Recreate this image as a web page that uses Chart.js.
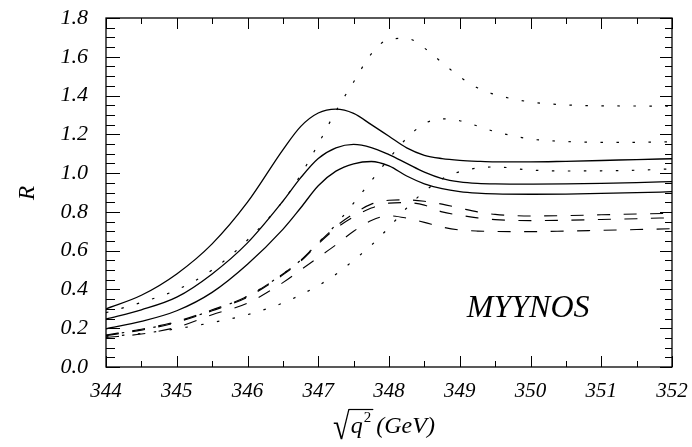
<!DOCTYPE html>
<html><head><meta charset="utf-8">
<script src="https://cdn.jsdelivr.net/npm/chart.js@4.4.0/dist/chart.umd.min.js"></script>
<style>html,body{margin:0;padding:0;background:#fff;}canvas{display:block;}</style>
</head><body>
<canvas id="c" width="692" height="447"></canvas>
<script>
// ---- data ----
const xValues = [344,344.5,345,345.5,346,346.5,346.75,347,347.25,347.5,347.75,348,348.25,348.5,348.75,349,349.25,349.5,350,350.5,351,351.5,352];
const solid1  = [0.300,0.370,0.480,0.635,0.850,1.120,1.240,1.310,1.330,1.308,1.250,1.190,1.130,1.092,1.075,1.066,1.061,1.058,1.058,1.061,1.065,1.070,1.074];
const solid2  = [0.248,0.295,0.360,0.480,0.640,0.855,0.975,1.075,1.130,1.148,1.132,1.095,1.050,1.005,0.972,0.955,0.947,0.944,0.943,0.944,0.947,0.951,0.956];
const solid3  = [0.197,0.235,0.290,0.385,0.530,0.710,0.820,0.935,1.010,1.048,1.060,1.037,0.985,0.945,0.920,0.905,0.897,0.893,0.891,0.892,0.895,0.899,0.904];
const dotted1 = [0.280,0.333,0.398,0.500,0.655,0.855,0.990,1.150,1.320,1.470,1.615,1.690,1.695,1.645,1.570,1.497,1.440,1.405,1.367,1.352,1.347,1.346,1.345];
const dotted2 = [0.163,0.193,0.232,0.293,0.365,0.480,0.550,0.640,0.735,0.845,0.960,1.075,1.180,1.255,1.280,1.270,1.243,1.214,1.176,1.163,1.159,1.159,1.162];
const dotted3 = [0.155,0.173,0.197,0.229,0.270,0.330,0.372,0.420,0.478,0.550,0.628,0.720,0.820,0.905,0.970,1.008,1.026,1.032,1.016,1.011,1.012,1.015,1.022];
const dashed1 = [0.165,0.195,0.235,0.295,0.365,0.480,0.550,0.640,0.725,0.790,0.840,0.860,0.862,0.855,0.840,0.820,0.800,0.787,0.779,0.781,0.785,0.789,0.793];
const dashed2 = [0.162,0.190,0.230,0.290,0.360,0.475,0.545,0.635,0.715,0.775,0.820,0.845,0.848,0.835,0.800,0.783,0.769,0.760,0.755,0.757,0.761,0.765,0.770];
const dashed3 = [0.152,0.170,0.205,0.270,0.330,0.435,0.500,0.565,0.630,0.700,0.755,0.780,0.768,0.746,0.722,0.707,0.701,0.699,0.698,0.701,0.705,0.709,0.713];
const xTickLabels = [344,345,346,347,348,349,350,351,352];
const yTickLabels = ['0.0','0.2','0.4','0.6','0.8','1.0','1.2','1.4','1.6','1.8'];
const yTitle = 'R';
const plotLabel = 'MYYNOS';

const pts = arr => arr.map((v,i) => ({x: xValues[i], y: v}));
const SOLID = [], DOT = [2.5, 13.5], DASH = [13, 13.5];
function ds(arr, dash, w) {
  return {data: pts(arr), borderColor:'#000', borderWidth:w, borderDash:dash,
          pointRadius:0, fill:false, cubicInterpolationMode:'monotone'};
}
const serif = 'Liberation Serif, Times New Roman, serif';

const decor = {
  id: 'decor',
  afterDraw(chart) {
    const {ctx, chartArea: a, scales: {x, y}} = chart;
    ctx.save();
    ctx.strokeStyle = '#000';
    ctx.lineWidth = 1.3;
    ctx.strokeRect(a.left, a.top, a.right - a.left, a.bottom - a.top);
    ctx.lineWidth = 1;
    ctx.beginPath();
    const x0 = xTickLabels[0], x1 = xTickLabels[xTickLabels.length-1];
    for (let v = x0; v <= x1 + 1e-9; v += 0.5) {
      const px = Math.round(x.getPixelForValue(v)) + 0.5;
      const major = Math.abs(v - Math.round(v)) < 1e-6;
      const L = major ? 11 : 6;
      ctx.moveTo(px, a.bottom); ctx.lineTo(px, a.bottom - L);
      ctx.moveTo(px, a.top); ctx.lineTo(px, a.top + L);
    }
    for (let i = 0; i <= 36; i++) {
      const py = Math.round(y.getPixelForValue(i * 0.05)) + 0.5;
      const major = i % 4 === 0;
      ctx.moveTo(a.left, py); ctx.lineTo(a.left + (major ? 14 : 9), py);
      ctx.moveTo(a.right, py); ctx.lineTo(a.right - (major ? 12 : 7), py);
    }
    ctx.stroke();

    ctx.fillStyle = '#000';
    // panel label
    ctx.font = 'italic 32px ' + serif;
    ctx.textAlign = 'left'; ctx.textBaseline = 'alphabetic';
    ctx.fillText(plotLabel, x.getPixelForValue(349.1), y.getPixelForValue(0.26));

    // y title
    ctx.save();
    ctx.translate(34, 193);
    ctx.rotate(-Math.PI/2);
    ctx.font = 'italic 23px ' + serif;
    ctx.textAlign = 'center'; ctx.textBaseline = 'alphabetic';
    ctx.fillText(yTitle, 0, 0);
    ctx.restore();

    // x title: sqrt(q^2) (GeV)
    const base = 433;
    const barY = 409.5;
    ctx.textAlign = 'left';
    ctx.font = '38px ' + serif;
    const m = ctx.measureText('\u221A');
    const rBase = barY + m.actualBoundingBoxAscent - 0.5;
    const sx = 0.8;
    ctx.save();
    ctx.translate(333, rBase);
    ctx.scale(sx, 1);
    ctx.fillText('\u221A', 0, 0);
    ctx.restore();
    const barStart = 333 + m.actualBoundingBoxRight * sx - 1;
    let cx = barStart + 2;
    ctx.font = 'italic 24px ' + serif;
    ctx.fillText('q', cx, base);
    cx += ctx.measureText('q').width;
    ctx.font = '15px ' + serif;
    ctx.fillText('2', cx + 1, base - 11);
    cx += 1 + ctx.measureText('2').width;
    ctx.lineWidth = 1.2;
    ctx.beginPath(); ctx.moveTo(barStart, barY); ctx.lineTo(cx + 2, barY); ctx.stroke();
    ctx.font = 'italic 24px ' + serif;
    ctx.fillText('(GeV)', cx + 5, base);
    ctx.restore();
  }
};

new Chart(document.getElementById('c'), {
  type: 'line',
  data: { datasets: [
    ds(solid1, SOLID, 1.3), ds(solid2, SOLID, 1.3), ds(solid3, SOLID, 1.3),
    ds(dotted1, DOT, 1.2), ds(dotted2, DOT, 1.2), ds(dotted3, DOT, 1.2),
    ds(dashed1, DASH, 1.1), ds(dashed2, DASH, 1.1), ds(dashed3, DASH, 1.1)
  ]},
  options: {
    responsive: false, animation: false, devicePixelRatio: 1,
    layout: { padding: {left: 0, right: 20, top: 18, bottom: 0} },
    plugins: { legend: {display: false}, tooltip: {enabled: false} },
    scales: {
      x: {
        type: 'linear', min: xTickLabels[0], max: xTickLabels[xTickLabels.length-1],
        grid: {display: false, drawTicks: false}, border: {display: false},
        ticks: { stepSize: 1, padding: 12, color: '#000', maxRotation: 0,
                 font: {family: serif, style: 'italic', size: 21},
                 callback: v => String(v) },
        afterFit: s => { s.height = 80; s.paddingLeft = 0; s.paddingRight = 0; }
      },
      y: {
        type: 'linear', min: 0, max: 1.8,
        grid: {display: false, drawTicks: false}, border: {display: false},
        ticks: { stepSize: 0.2, padding: 18, color: '#000',
                 font: {family: serif, style: 'italic', size: 22},
                 callback: v => yTickLabels[Math.round(v / 0.2)] },
        afterFit: s => { s.width = 106; s.paddingTop = 0; s.paddingBottom = 0; }
      }
    }
  },
  plugins: [decor]
});
</script>
</body></html>
